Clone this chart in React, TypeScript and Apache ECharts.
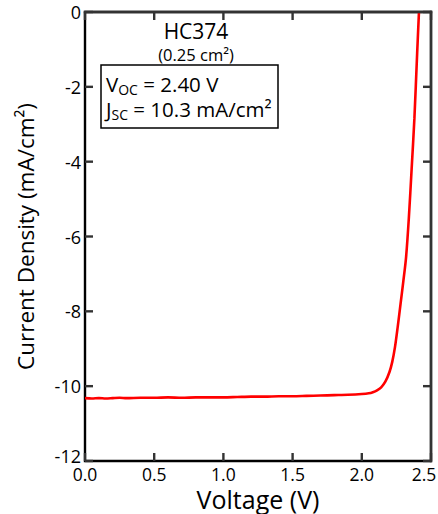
import React, { useEffect, useRef } from "react";
import * as echarts from "echarts";

const voltage = [0.0, 0.05, 0.1, 0.15, 0.2, 0.25, 0.3, 0.4, 0.5, 0.6, 0.7, 0.8, 0.9, 1.0, 1.1, 1.2, 1.3, 1.4, 1.5, 1.6, 1.7, 1.8, 1.9, 2.0, 2.05, 2.08, 2.11, 2.14, 2.17, 2.2, 2.22, 2.24, 2.26, 2.28, 2.3, 2.32, 2.34, 2.36, 2.38, 2.4, 2.413];
const current = [-10.32, -10.33, -10.32, -10.33, -10.32, -10.31, -10.32, -10.31, -10.31, -10.3, -10.31, -10.3, -10.3, -10.3, -10.29, -10.28, -10.28, -10.27, -10.27, -10.26, -10.25, -10.24, -10.23, -10.21, -10.19, -10.16, -10.11, -10.03, -9.88, -9.62, -9.35, -8.95, -8.4, -7.8, -7.2, -6.55, -5.5, -4.2, -2.85, -1.1, 0.0];

const xTickValues = [0, 0.5, 1.0, 1.5, 2.0, 2.5];
const yTickValues = [-12, -10, -8, -6, -4, -2, 0];

const xRange = { min: 0, max: 2.5, interval: 0.5 };
const yRange = { min: -12, max: 0, interval: 2 };

const FONT = "'Open Sans', sans-serif";
const TICK_LEN = 8;
const TICK_W = 2.4;
const FRAME_W = 2.4;
const INK = "#000000";
const MARK_INK = "#333333";

export default function App() {
  const ref = useRef<HTMLDivElement>(null);
  useEffect(() => {
    if (!ref.current) return;
    const chart = echarts.init(ref.current, null, { renderer: "svg" });
    const data = voltage.map((v, i) => [v, current[i]]);
    const fillStyle = { fill: MARK_INK };
    chart.setOption({
      animation: false,
      backgroundColor: "#fff",
      grid: {
        left: 85,
        right: 7,
        top: 12,
        bottom: 53,
        outerBoundsMode: "none",
        containLabel: false,
        show: true,
        borderColor: INK,
        borderWidth: FRAME_W,
        backgroundColor: "transparent",
      },
      xAxis: {
        type: "value",
        ...xRange,
        axisLine: { show: false },
        axisTick: { show: false },
        splitLine: { show: false },
        axisLabel: {
          color: "#000",
          fontSize: 17.5,
          fontFamily: FONT,
          margin: 4,
          formatter: (v: number) => (v === xRange.max ? `{last|${v.toFixed(1)}}` : v.toFixed(1)),
          rich: {
            last: { fontSize: 17.5, fontFamily: FONT, color: "#000", padding: [0, 14, 0, 0] },
          },
        },
        name: "Voltage (V)",
        nameLocation: "middle",
        nameGap: 25,
        nameMoveOverlap: false,
        nameTextStyle: { color: "#000", fontSize: 25, fontFamily: FONT },
      },
      yAxis: {
        type: "value",
        ...yRange,
        axisLine: { show: false },
        axisTick: { show: false },
        splitLine: { show: false },
        axisLabel: {
          color: "#000",
          fontSize: 18,
          fontFamily: FONT,
          margin: 4,
          formatter: (v: number) => (v === yRange.min ? `{low|${v}}` : `${v}`),
          rich: {
            low: { fontSize: 18, fontFamily: FONT, color: "#000", padding: [0, 0, 10, 0] },
          },
        },
        name: "Current Density (mA/cm²)",
        nameLocation: "middle",
        nameGap: 48,
        nameMoveOverlap: false,
        nameTextStyle: { color: "#000", fontSize: 22.5, fontFamily: FONT },
      },
      series: [
        {
          type: "line",
          data,
          showSymbol: false,
          smooth: 0.3,
          clip: true,
          z: 3,
          lineStyle: { color: "#ff0000", width: 2.6 },
        },
        {
          type: "custom",
          data: [[xRange.min, yRange.min]],
          encode: { x: 0, y: 1 },
          silent: true,
          z: 5,
          renderItem: (params: any, api: any) => {
            const tl = api.coord([xRange.min, yRange.max]);
            const br = api.coord([xRange.max, yRange.min]);
            const h = FRAME_W / 2;
            const w = br[0] - tl[0];
            const ht = br[1] - tl[1];
            return {
              type: "group",
              children: [
                { type: "rect", shape: { x: tl[0] - h, y: tl[1] - h, width: w + FRAME_W, height: FRAME_W }, style: fillStyle },
                { type: "rect", shape: { x: br[0] - h, y: tl[1] - h, width: FRAME_W, height: ht + FRAME_W }, style: fillStyle },
              ],
            };
          },
        },
        {
          type: "custom",
          data: xTickValues.map((v) => [v, yRange.min]),
          encode: { x: 0, y: 1 },
          silent: true,
          z: 4,
          renderItem: (params: any, api: any) => {
            const v = api.value(0);
            const b = api.coord([v, yRange.min]);
            const t = api.coord([v, yRange.max]);
            return {
              type: "group",
              children: [
                { type: "rect", shape: { x: b[0] - TICK_W / 2, y: b[1] - TICK_LEN, width: TICK_W, height: TICK_LEN }, style: fillStyle },
                { type: "rect", shape: { x: t[0] - TICK_W / 2, y: t[1], width: TICK_W, height: TICK_LEN }, style: fillStyle },
              ],
            };
          },
        },
        {
          type: "custom",
          data: yTickValues.map((v) => [xRange.min, v]),
          encode: { x: 0, y: 1 },
          silent: true,
          z: 4,
          renderItem: (params: any, api: any) => {
            const v = api.value(1);
            const l = api.coord([xRange.min, v]);
            const r = api.coord([xRange.max, v]);
            return {
              type: "group",
              children: [
                { type: "rect", shape: { x: l[0], y: l[1] - TICK_W / 2, width: TICK_LEN, height: TICK_W }, style: fillStyle },
                { type: "rect", shape: { x: r[0] - TICK_LEN, y: r[1] - TICK_W / 2, width: TICK_LEN, height: TICK_W }, style: fillStyle },
              ],
            };
          },
        },
      ],
      graphic: [
        {
          type: "text",
          x: 196,
          y: 31,
          style: {
            text: "HC374",
            font: `21px ${FONT}`,
            fill: "#000",
            align: "center",
            verticalAlign: "middle",
          },
        },
        {
          type: "text",
          x: 196,
          y: 54,
          style: {
            text: "(0.25 cm²)",
            font: `16.5px ${FONT}`,
            fill: "#000",
            align: "center",
            verticalAlign: "middle",
          },
        },
        {
          type: "rect",
          shape: { x: 101, y: 65, width: 177, height: 63 },
          style: { fill: "#fff", stroke: "#000", lineWidth: 1.5 },
        },
        {
          type: "text",
          x: 106,
          y: 71,
          style: {
            text: "{m|V}{s|OC}{m| = 2.40 V}\n{m|J}{s|SC}{m| = 10.3 mA/cm²}",
            fill: "#000",
            align: "left",
            verticalAlign: "top",
            rich: {
              m: { fontSize: 20.5, fontFamily: FONT, lineHeight: 25, verticalAlign: "middle", fill: "#000" },
              s: { fontSize: 14, fontFamily: FONT, lineHeight: 12, verticalAlign: "bottom", fill: "#000" },
            },
          },
        },
      ],
    });
    return () => chart.dispose();
  }, []);
  return (
    <div
      ref={ref}
      style={{ position: "absolute", left: 0, top: 0, width: 438, height: 514 }}
    />
  );
}
